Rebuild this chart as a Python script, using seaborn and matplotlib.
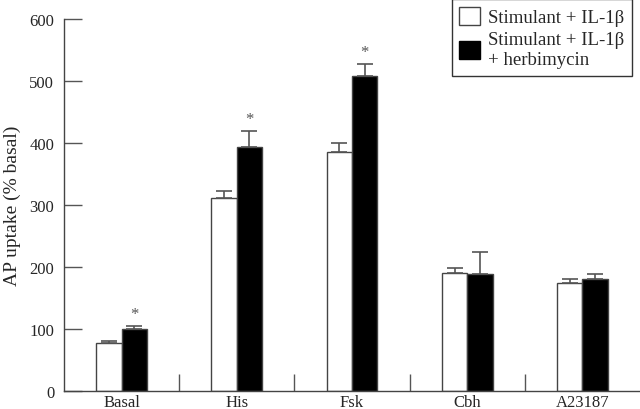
import matplotlib
matplotlib.use("Agg")
import matplotlib.pyplot as plt
import seaborn as sns
import pandas as pd
import numpy as np
from matplotlib.patches import Patch

categories = ["Basal", "His", "Fsk", "Cbh", "A23187"]
series_names = ["Stimulant + IL-1\u03b2", "Stimulant + IL-1\u03b2\n+ herbimycin"]
ctrl_values = [78, 311, 386, 191, 175]
ctrl_err = [3, 12, 14, 8, 6]
herb_values = [100, 393, 508, 189, 181]
herb_err = [5, 26, 19, 36, 8]
significant = [True, True, True, False, False]
y_ticks = [0, 100, 200, 300, 400, 500, 600]

sns.set_theme(style="white")
plt.rcParams['font.family'] = ['Liberation Serif', 'DejaVu Serif']

df = pd.DataFrame({
    "cat": categories * 2,
    "val": ctrl_values + herb_values,
    "err": ctrl_err + herb_err,
    "series": [series_names[0]] * 5 + [series_names[1]] * 5,
})

fig = plt.figure(figsize=(6.4, 4.1), dpi=100)
ax = fig.add_axes([64/640, 1 - 392/410, 1 - 64/640, (392 - 20)/410])

sns.barplot(data=df, x="cat", y="val", hue="series", order=categories,
            hue_order=series_names, palette=["white", "black"],
            width=0.44, gap=0, errorbar=None, edgecolor="#444444",
            linewidth=1.0, saturation=1, legend=False, ax=ax)

# error bars (upward only) from bar positions
for i, (vals, errs) in enumerate([(ctrl_values, ctrl_err), (herb_values, herb_err)]):
    cont = ax.containers[i]
    xs = [p.get_x() + p.get_width()/2 for p in cont.patches]
    ax.errorbar(xs, vals, yerr=[np.zeros(len(errs)), errs], fmt="none",
                ecolor="#555555", elinewidth=1.2, capsize=6, capthick=1.2)
    if i == 1:
        for x, v, e, s in zip(xs, vals, errs, significant):
            if s:
                ax.annotate("*", (x, v + e), xytext=(0, 3), textcoords="offset points",
                            ha="center", va="bottom", fontsize=12, color="#555555")

ax.set_xlim(-0.5, 4.5)
ax.set_ylim(0, 600)
ax.set_yticks(y_ticks)
ax.set_yticklabels([str(t) for t in y_ticks], fontsize=12)
ax.set_xticks(range(len(categories)))
ax.set_xticklabels(categories, fontsize=12)
ax.set_xticks([0.5, 1.5, 2.5, 3.5], minor=True)
ax.tick_params(axis="x", which="major", length=0, pad=2)
ax.tick_params(axis="x", which="minor", direction="in", length=12, width=1, color="#555555", bottom=True)
ax.tick_params(axis="y", direction="in", length=13, width=1, color="#555555", left=True, pad=7)
ax.set_xlabel("")
ax.set_ylabel("AP uptake (% basal)", fontsize=14, labelpad=6)
for side in ["top", "right"]:
    ax.spines[side].set_visible(False)
for side in ["left", "bottom"]:
    ax.spines[side].set_color("#444444")
    ax.spines[side].set_linewidth(1.0)

handles = [Patch(facecolor="white", edgecolor="#444444", linewidth=1),
           Patch(facecolor="black", edgecolor="black", linewidth=1)]
leg = fig.legend(handles, series_names, loc="upper right",
                 bbox_to_anchor=(632/640, 1.0), fontsize=13.5, frameon=True,
                 fancybox=False, edgecolor="#333333", framealpha=1,
                 handlelength=1.1, handleheight=1.1, handletextpad=0.45,
                 borderpad=0.4, labelspacing=0.25, borderaxespad=0)
leg.get_frame().set_linewidth(1.0)
for t in leg.get_texts():
    t.set_linespacing(1.3)

fig.savefig("out.png", dpi=100)
